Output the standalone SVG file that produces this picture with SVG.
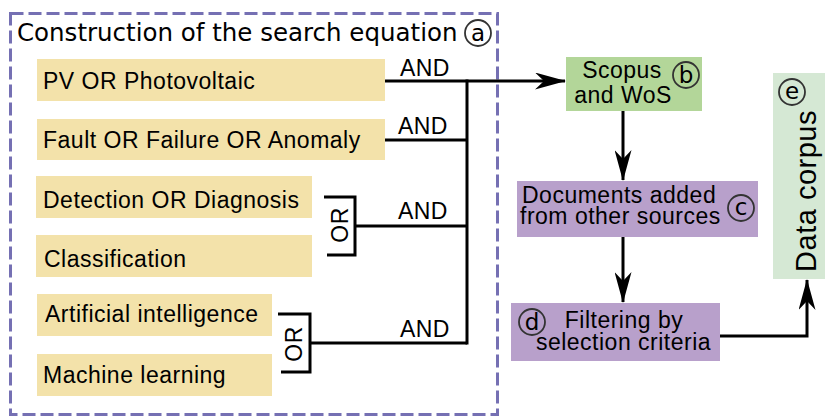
<svg xmlns="http://www.w3.org/2000/svg" width="825" height="417" viewBox="0 0 825 417">
<defs>
<style>
.y{fill:#f3e2aa}
.t{font-family:"Liberation Sans",Arial,sans-serif;font-size:23px;letter-spacing:0.5px;fill:#000}
.a{font-family:"Liberation Sans",Arial,sans-serif;font-size:23px;letter-spacing:0.4px;fill:#000}
.c{font-family:"DejaVu Sans",sans-serif;font-size:24.5px;fill:#000}
.ln{stroke:#000;stroke-width:3;fill:none}
.circ{fill:none;stroke:#333;stroke-width:1.8}
.ct{font-family:"DejaVu Sans",sans-serif;font-size:23px;fill:#000;text-anchor:middle}
</style>
<marker id="ah2" viewBox="0 0 31 17" refX="30" refY="8.5" markerWidth="31" markerHeight="17" markerUnits="userSpaceOnUse" orient="auto">
<path d="M0,0 L31,8.5 L0,17 L9,8.5 Z" fill="#000"/>
</marker>
</defs>
<rect width="825" height="417" fill="#fff"/>

<g id="frame">
<rect x="10.5" y="13.5" width="487" height="401" fill="none" stroke="#7570b3" stroke-width="3" stroke-dasharray="13,5"/>
<text class="c" x="17" y="41">Construction of the search equation</text>
<circle class="circ" cx="478" cy="33" r="13"/>
<text class="ct" x="478" y="41">a</text>
</g>

<g id="n1"><rect class="y" x="37" y="59" width="348" height="42"/><text class="t" x="43" y="89">PV OR Photovoltaic</text></g>
<g id="n2"><rect class="y" x="37" y="119" width="348" height="41"/><text class="t" x="43" y="148">Fault OR Failure OR Anomaly</text></g>
<g id="n3"><rect class="y" x="36" y="176" width="276" height="42"/><text class="t" x="43" y="208">Detection OR Diagnosis</text></g>
<g id="n4"><rect class="y" x="36" y="235" width="276" height="42"/><text class="t" x="44" y="267">Classification</text></g>
<g id="n5"><rect class="y" x="37" y="294" width="235" height="42"/><text class="t" x="45" y="322">Artificial intelligence</text></g>
<g id="n6"><rect class="y" x="37" y="354" width="235" height="42"/><text class="t" x="43" y="383">Machine learning</text></g>

<g id="scopus"><rect x="566" y="57" width="136" height="54" fill="#b3d699"/>
<text class="t" x="622" y="78" text-anchor="middle">Scopus</text>
<text class="t" x="623" y="103" text-anchor="middle">and WoS</text>
<circle class="circ" cx="686" cy="75" r="13"/><text class="ct" x="686" y="83">b</text></g>

<g id="docs"><rect x="517" y="181" width="241" height="56" fill="#b8a0cb"/>
<text class="t" x="522" y="203">Documents added</text>
<text class="t" x="520" y="224">from other sources</text>
<circle class="circ" cx="741" cy="208" r="13"/><text class="ct" x="741" y="215">c</text></g>

<g id="filter"><rect x="511" y="303" width="209" height="58" fill="#b8a0cb"/>
<text class="t" x="624" y="328" text-anchor="middle">Filtering by</text>
<text class="t" x="623.5" y="350" text-anchor="middle">selection criteria</text>
<circle class="circ" cx="532" cy="322" r="13"/><text class="ct" x="532" y="330">d</text></g>

<g id="corpus"><rect x="773" y="73" width="52" height="206" fill="#d5e8d4"/>
<text class="t" style="font-size:29px" transform="translate(816,191) rotate(-90)" text-anchor="middle">Data corpus</text>
<circle class="circ" cx="792" cy="92" r="13"/><text class="ct" x="792" y="99">e</text></g>

<g id="connectors">
<path class="ln" d="M385,81 H565" marker-end="url(#ah2)"/>
<path class="ln" d="M385,140 H467"/>
<path class="ln" d="M467,79.5 V344.5"/>
<path class="ln" d="M324,197 H355 V255 H327"/>
<path class="ln" d="M355,226 H467"/>
<path class="ln" d="M278,314 H310 V372 H281"/>
<path class="ln" d="M310,343 H467"/>
<text class="a" x="400" y="76">AND</text>
<text class="a" x="398" y="134">AND</text>
<text class="a" x="398" y="219">AND</text>
<text class="a" x="400" y="337">AND</text>
<text class="a" transform="translate(348,225) rotate(-90)" text-anchor="middle">OR</text>
<text class="a" transform="translate(302,344) rotate(-90)" text-anchor="middle">OR</text>
<path class="ln" d="M623,111 V180" marker-end="url(#ah2)"/>
<path class="ln" d="M623,237 V302" marker-end="url(#ah2)"/>
<path class="ln" d="M720,336 H807 V280" marker-end="url(#ah2)"/>
</g>
</svg>
